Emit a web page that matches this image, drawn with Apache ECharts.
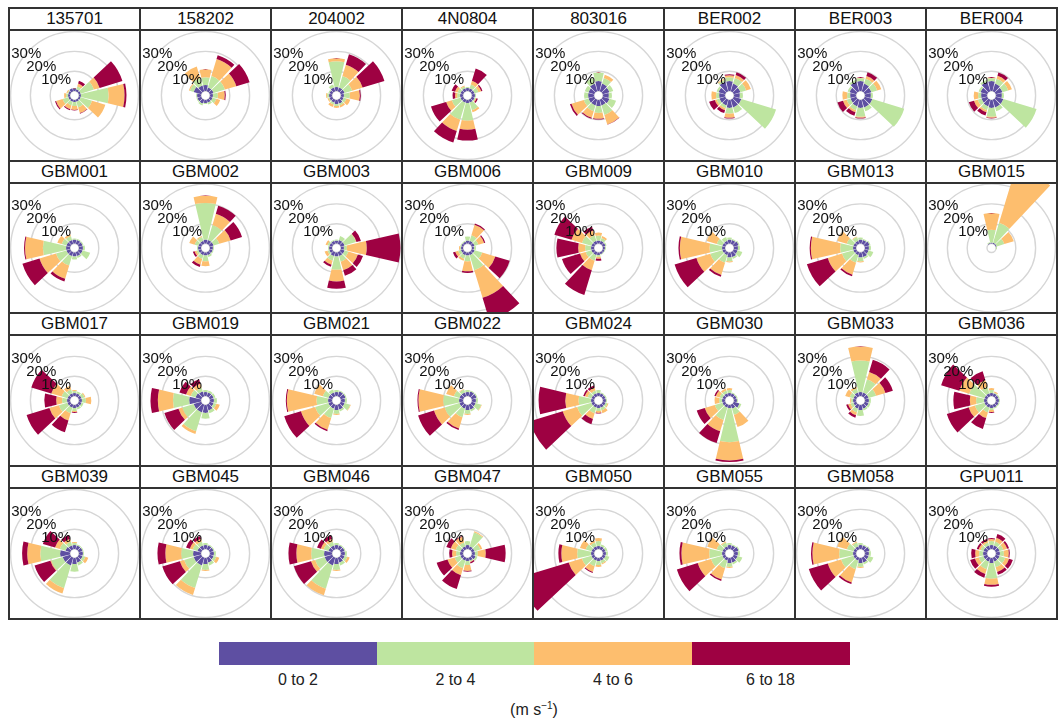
<!DOCTYPE html>
<html>
<head>
<meta charset="utf-8">
<script src="https://cdn.jsdelivr.net/npm/echarts@6/dist/echarts.min.js"></script>
<style>
  html, body { margin: 0; padding: 0; background: #ffffff; }
  #page { position: relative; width: 1059px; height: 724px; overflow: hidden;
          font-family: "Liberation Sans", Arial, sans-serif; color: #111; }
  .rule { position: absolute; background: #333; }
  .strip { position: absolute; text-align: center; font-size: 17px; line-height: 22px; color: #111; }
  .plot { position: absolute; overflow: hidden; }
  .key { position: absolute; height: 23px; }
  .keylab { position: absolute; width: 158px; text-align: center; font-size: 16px; color: #222; }
  #unit { position: absolute; left: 434px; width: 200px; top: 700px; text-align: center; font-size: 16px; color: #222; }
  #unit sup { font-size: 10px; }
</style>
</head>
<body>
<div id="page"></div>
<script>
// Wind direction sectors (degrees from north, clockwise) and speed classes (m/s)
const directions = ['0', '30', '60', '90', '120', '150', '180', '210', '240', '270', '300', '330'];
const speedBins = ['0 to 2', '2 to 4', '4 to 6', '6 to 18'];
const binColors = ['#5E4FA2', '#BEE5A0', '#FDBE6E', '#9E0142'];
const ringTicks = [10, 20, 30];

const stationNames = ['135701', '158202', '204002', '4N0804', '803016', 'BER002', 'BER003', 'BER004',
  'GBM001', 'GBM002', 'GBM003', 'GBM006', 'GBM009', 'GBM010', 'GBM013', 'GBM015',
  'GBM017', 'GBM019', 'GBM021', 'GBM022', 'GBM024', 'GBM030', 'GBM033', 'GBM036',
  'GBM039', 'GBM045', 'GBM046', 'GBM047', 'GBM050', 'GBM055', 'GBM058', 'GPU011'];

// Frequency (%) per direction sector: [0-2, 2-4, 4-6, 6-18 m/s]
const st135701 = [[1.5,0,0,0],[1,1.5,1.5,1.5],[1,7,3,12],[1,14,8,1],[1,6,7,0],[1,3,3,0.3],[1,2,2,0.3],[1,2,2,0.5],[1,3,3.5,0.5],[1,1,1,0],[1,0.5,0.5,0],[1.5,0,0,0]];
const st158202 = [[3,4,4,0],[2,6,9,2],[2,6,6,7],[1.5,2.5,3.5,0.5],[1.5,2,2,0],[1.5,1,0,0],[1.5,0.5,0,0],[2,1,0,0],[2,0.5,0,0],[2,0.5,0,0],[4,2,0.5,0],[3,4,6,0]];
const st204002 = [[2,13,1.5,0],[2,6,6,5.5],[2,4,5.5,11.5],[1.5,3,5,0.5],[1.5,1.5,2,0],[2,1,1,0],[2,1,1,0],[1.5,1,1.3,0],[1.5,0.5,0.5,0],[1.5,1,0.5,0],[1.5,0.5,0,0],[2,1.5,0,0]];
const st4N0804 = [[1.5,0.5,0,0],[1.5,2,2,6.5],[1.5,2,1.5,0.6],[1.5,0.5,0,0],[1.5,0.5,0.5,0.7],[1.5,4,1,0],[1.5,9,4.5,5.5],[1.5,9,6,6],[1.5,4.5,3,8],[1.5,1.5,1,1.3],[1.5,1.5,1.3,1.8],[1.5,1,0.5,0]];
const st803016 = [[5,4.4,0,0],[4,3,1.7,0],[3.5,2,0,0],[3,1.5,0,0],[3.5,3.5,0,0],[3,5,5,0.2],[3,3.5,3,0.4],[3,3,3.5,0.5],[3,2.5,6.5,0.8],[3,2,0,0],[3,2,0,0],[4,3,0,0]];
const stBER002 = [[5,2,1,0.5],[4,3,1.5,1.5],[3.5,3,2.5,0],[3,1.5,0,0],[4,18.3,0,0],[4,3,0,0],[4,3,2,0.4],[3,1.5,1,1.5],[3,1.5,1,3],[3,1.5,2.4,0],[3.5,1,0,0],[5,1,0.5,0]];
const stBER003 = [[5,1.5,0.3,0],[4,2.5,1.5,2],[3.5,3,2.2,0],[3,1,0,0],[4,16.8,0,0],[4,2,0,0],[4,4.5,0.5,0.4],[3.5,2,1,1.9],[3,2,2,2.9],[3,1.5,2.4,0],[3.5,1,0,0],[5,1,0,0]];
const stBER004 = [[5,1.5,0.4,0],[4,2.5,1.6,1.8],[3.5,3,2,0],[3,1,0,0],[4,17.5,0,0],[4,2,0,0],[4,4.5,0.5,0.3],[3.5,2,1,1.8],[3,2,2,2.7],[3,1.5,2.2,0],[3.5,1,0,0],[5,1,0,0]];
const stGBM001 = [[2,0.5,0,0],[2,0.5,0,0],[2,0.5,0,0],[2,1,0,0],[2,4,0,0],[2,1,0,0],[2,1.5,0,0],[2,5,7,1.4],[2,5.5,8.7,9],[2,11.7,9,0.5],[2,2.5,2.3,0],[2,2,1,0]];
const stGBM002 = [[2,18.5,3.6,0],[2,7.8,6,4.2],[2,3,6,6],[1.5,0.5,0,0],[1.5,0.5,0,0],[1.5,1,0,0],[1.5,3,2.5,0],[1.5,2,3,1.3],[1.5,1,1,0.9],[1.5,0.5,0,0],[1.5,2,2.8,0],[1.5,2,0.5,0]];
const stGBM003 = [[1.5,0.5,0,0],[2,2,0,0],[2,6,0.3,2.3],[1.5,1.5,10,17],[2,2,5,2.7],[2,3,4.5,2.9],[2,6.7,5.9,3.7],[2,2.5,2,1.1],[1.5,1,1.5,0],[1.5,0.5,0,0],[1.5,1,1,0],[1.5,0.5,0,0]];
const stGBM006 = [[1.5,2,0,0],[1.5,3,5.5,0.6],[1.5,2,3,0.6],[1,1,0,0],[1.5,4,6.9,7.6],[1.5,8,14.5,12],[1.5,3,5,0.8],[1.5,2,1,0],[1.2,1.5,1.5,1.2],[1,0.5,0.5,0],[1,0.5,0,0],[1,0.5,0,0]];
const stGBM009 = [[1.5,2.5,1.5,0],[1.5,1.5,1,0],[1.5,0.5,0,0],[1,0.5,0,0],[1,0.3,0,0],[1,0.3,0,0],[1.2,1,1,1],[1.5,3,5,13],[1.5,3,3,9.5],[1.5,3,3.5,11],[1.5,5,5.5,9],[1.5,3,2.5,2]];
const stGBM010 = [[2,1,0,0],[2,0.5,0,0],[2.5,0.5,0,0],[2,1,0,0],[2,2.5,0,0],[2.5,1,0,0],[2.5,2,0.5,0],[1.5,4,6.5,0.9],[1.5,6.4,7.3,11.5],[1.5,6.3,15,0.7],[1.5,3,5.3,0],[1.5,2,0,0]];
const stGBM013 = [[2,1,0,0],[2,0.5,0,0],[2.5,0.5,0,0],[2,1,0,0],[2,2.5,0,0],[2.5,1,0,0],[2.5,2,0.5,0],[1.5,4,6.3,0.8],[1.5,6,7.5,11],[1.5,6.5,14.8,0.6],[1.5,3.5,5,0],[1.5,2,0.3,0]];
const stGBM015 = [[0.5,6.5,8.4,0],[0.5,10.5,30,0],[0.5,4,5,0],[0,0.5,0,0],[0,0,0,0],[0,0,0,0],[0,0,0,0],[0,0,0,0],[0,0,0,0],[0,0,0,0],[0,0,0,0],[0.3,0.5,0,0]];
const stGBM017 = [[1.5,1,0.5,0],[1.5,1,0,0],[1.5,1.5,0.5,0],[1.5,2,2.7,0],[1.5,1,0,0],[1.5,1,0,0],[1.5,1.5,0.5,0.5],[1.5,3,3.8,6.2],[1.5,4.5,5,12],[1.5,2.5,3,6],[1.5,3,5.5,10.5],[1.5,2,2,0]];
const stGBM019 = [[2,1,0,0],[2,1,0,0],[2,1,0,0],[2,1.5,0,0],[2,1.5,1.8,0],[3,1.5,0,0],[4,3,0,0],[4,10,1.4,0],[4,6,2,7.4],[6,8.2,7.6,3.7],[3,2.5,2.5,3.5],[2.5,2,2,2.5]];
const stGBM021 = [[2,1,0,0],[2.5,0.5,0,0],[2.5,0.5,0,0],[2,1,0,0],[2,3,0.3,0],[2.5,1,0,0],[2.5,2,0.5,0],[2,5,6.2,0.7],[2,7,7.5,8.8],[2,5.8,15,0.5],[2,3,4.5,0],[2,1.5,0,0]];
const stGBM022 = [[2,1,0,0],[2.5,0.5,0,0],[2.5,0.5,0,0],[2,1,0,0],[2,3,0.3,0],[2.5,1,0,0],[2.5,2,0.5,0],[2,4.5,6,0.8],[2,7.8,5.6,8.4],[2,8,12.5,0.5],[2,3,4,0],[2,1.5,0.3,0]];
const stGBM024 = [[1.5,1.5,0,0],[1.5,0.5,0,0],[1.5,0.5,0,0],[1.5,0.5,0,0],[1.5,1,0.5,0],[1.5,1.5,1.5,0],[1.5,1.5,1,0.3],[1.5,3,3,2.7],[1.5,7.5,7.6,17.4],[1.5,6.3,6.7,13.5],[1.5,2,1.5,0.8],[1.5,1.5,1.5,1.2]];
const stGBM030 = [[1.5,1.5,1,0],[1.5,0.5,0,0],[1.5,0.5,0,0],[1.5,0.5,0,0],[3,1,0,0],[2,3.3,6.4,0],[1.5,17.3,9.2,0.8],[1.5,6.5,6,6.2],[1.5,4,5.3,4.2],[1.5,1.5,2.3,0],[1.5,1.5,2,0.7],[1.5,1.5,1,0]];
const stGBM033 = [[2,15.9,7.1,0],[2,7,3.8,6.4],[2,4,4.9,3.9],[2,1,0,0],[2,1,0,0],[2,1,0,0],[2.5,3,0,0],[2,2,1.5,1.3],[1.5,1.5,1.3,1],[1.5,1,0.5,0],[1.5,2,2.3,0],[2,2,1,0]];
const stGBM036 = [[1.5,1.5,1,0],[1.5,0.5,0.5,0],[1.5,0.5,0,0],[1.5,0.5,0,0],[1.5,0.5,0,0],[1.5,0.5,0,0],[1.5,1,1,0.5],[1.5,2.5,3,5.8],[1.5,5,3.3,11.5],[1.5,4,3.2,8.3],[1.5,8,5.2,9.6],[1.5,3.5,3.4,4.8]];
const stGBM039 = [[2,1,0.5,0],[2,0.5,0,0],[2,0.5,0,0],[2,0.5,0,0],[2,1.5,1.5,0],[2.5,1.5,0,0],[3,4,0,0],[4,12,2.8,0],[4,6,0.5,8.3],[5,10,6.6,2.6],[2.5,3,2.5,6.4],[2,2,1.5,2]];
const stGBM045 = [[2,1,0,0],[2,0.5,0,0],[2,0.5,0,0],[2,1,0,0],[2,1.5,1.5,0],[2.5,1.5,0,0],[3,3,0.5,0],[4,11.9,3.7,0],[4,5,2.3,9.2],[4,6,8,4],[2,2.5,1.5,2],[2,2,1.5,1.5]];
const stGBM046 = [[2,1,0,0],[2,0.5,0,0],[2,0.5,0,0],[2,1,0,0],[2,1.5,1.2,0],[2.5,1.5,0,0],[3,3,0.5,0],[4,12.3,3.5,0],[4,5,2.2,9],[4,6.5,7.5,4],[2,2.5,1.5,2],[2,2,1.5,1.8]];
const stGBM047 = [[2,2,0,0],[1.5,7.5,0.4,0],[1.5,3,1,0],[1.5,1.5,4,10],[2,1,0,0],[1.5,0.5,0.3,0.7],[1.5,2,3,0.5],[1.5,4,3.7,7.3],[1.5,3,3.8,5.7],[1.5,2,2,1.5],[1.5,2.5,2.5,2.4],[1.5,2,3,0.5]];
const stGBM050 = [[1.5,2.5,1.5,0],[1.5,1,0,0],[1.5,1,0,0],[1.5,1,0,0],[1.5,2,0,0],[1.5,1.5,0.5,0],[1.5,2,1,0],[1.5,3,3,0.5],[1.5,5,7,26.5],[1.5,7,8,1.5],[1.5,3,3,0],[1.5,2,1,0]];
const stGBM055 = [[2,1,0,0],[2,0.5,0,0],[2.5,0.5,0,0],[2,1,0,0],[2,2.5,0,0],[2.5,1,0,0],[2.5,2,0.5,0],[1.5,4,6,0.8],[1.5,6,7,11],[1.5,6.5,14,1],[1.5,3,5,0],[1.5,2,0.5,0]];
const stGBM058 = [[2,1,0,0],[2,0.5,0,0],[2.5,0.5,0,0],[2,1,0,0],[2,2.5,0,0],[2.5,1,0,0],[2.5,2,0.5,0],[1.5,4.5,7,0.8],[1.5,6.5,7,10],[1.5,7,13.5,0.7],[1.5,3.5,5,0],[1.5,2,0.5,0]];
const stGPU011 = [[2,2,1,0.5],[2,2,2,2],[2,2,2,1],[2,2,2.5,0.5],[2,3,2,2],[2,3,2.5,1.5],[2.5,8,3,1],[2,4,2.5,2],[2,2.5,2,2.5],[2,2,2,2],[2,1.5,1,1],[2,1.5,1,1]];

const stationData = [st135701, st158202, st204002, st4N0804, st803016, stBER002, stBER003, stBER004,
  stGBM001, stGBM002, stGBM003, stGBM006, stGBM009, stGBM010, stGBM013, stGBM015,
  stGBM017, stGBM019, stGBM021, stGBM022, stGBM024, stGBM030, stGBM033, stGBM036,
  stGBM039, stGBM045, stGBM046, stGBM047, stGBM050, stGBM055, stGBM058, stGPU011];

// ---- layout of the 8 x 4 panel grid ----
const NCOL = 8;
const colEdge = i => 9 + 131 * i;
const rowEdges = [8, 161, 313, 466, 619];
const STRIP = 22;
const HOLE = 4.5;          // px radius of the empty centre
const PX_PER_PCT = 1.98;   // px per 1 % frequency
const RMAX = 50;           // radius axis extent (%)
const gridGrey = '#d6d6d6';
const clear = 'rgba(0,0,0,0)';

const page = document.getElementById('page');
function addDiv(cls, css, html) {
  const d = document.createElement('div');
  d.className = cls;
  Object.assign(d.style, css);
  if (html !== undefined) d.innerHTML = html;
  page.appendChild(d);
  return d;
}

function roseOption(rows, cx, cy) {
  const outer = HOLE + PX_PER_PCT * RMAX;
  const series = speedBins.map((name, k) => ({
    name: name,
    type: 'bar',
    coordinateSystem: 'polar',
    polarIndex: 0,
    stack: 'speed',
    barCategoryGap: '12%',
    silent: true,
    itemStyle: { color: binColors[k] },
    data: rows.map(r => r[k])
  }));
  return {
    animation: false,
    polar: [
      { center: [cx, cy], radius: [HOLE, outer] },
      { center: [cx, cy], radius: [HOLE, outer] }
    ],
    angleAxis: [
      { polarIndex: 0, type: 'category', data: directions, startAngle: 105, clockwise: true,
        axisLine: { show: false }, axisTick: { show: false }, axisLabel: { show: false }, splitLine: { show: false } },
      { polarIndex: 1, type: 'value', min: 0, max: 360, startAngle: 139,
        axisLine: { show: false }, axisTick: { show: false }, axisLabel: { show: false }, splitLine: { show: false } }
    ],
    radiusAxis: [
      { polarIndex: 0, type: 'value', min: 0, max: RMAX, interval: 10,
        axisLine: { show: false }, axisTick: { show: false }, axisLabel: { show: false },
        splitLine: { show: true, lineStyle: { width: 1.4, color: [gridGrey, gridGrey, gridGrey, gridGrey, clear, clear] } } },
      { polarIndex: 1, type: 'value', min: 0, max: RMAX, interval: 10, z: 10,
        axisLine: { show: false }, axisTick: { show: false }, splitLine: { show: false },
        axisLabel: { show: true, margin: 0, align: 'center', verticalAlign: 'middle',
          fontSize: 15, color: '#111', fontFamily: 'Liberation Sans, Arial, sans-serif',
          formatter: v => ringTicks.indexOf(v) >= 0 ? v + '%' : '' } }
    ],
    series: series
  };
}

// one wind rose per station, each in its own clipped panel
stationNames.forEach((name, idx) => {
  const c = idx % NCOL, r = Math.floor(idx / NCOL);
  const x0 = colEdge(c), x1 = colEdge(c + 1);
  const y0 = rowEdges[r], y1 = rowEdges[r + 1];
  addDiv('strip', { left: (x0 + 1) + 'px', top: y0 + 'px', width: (x1 - x0 - 2) + 'px', height: STRIP + 'px' }, name);
  const plotLeft = x0 + 1, plotTop = y0 + STRIP + 1;
  const w = x1 - x0 - 2, h = y1 - y0 - STRIP - 2;
  const div = addDiv('plot', { left: plotLeft + 'px', top: plotTop + 'px', width: w + 'px', height: h + 'px' });
  const cxAbs = (x0 + x1) / 2, cyAbs = (y0 + STRIP + y1) / 2;
  const chart = echarts.init(div, null, { renderer: 'canvas', devicePixelRatio: 1 });
  chart.setOption(roseOption(stationData[idx], cxAbs - plotLeft, cyAbs - plotTop));
});

// frame lines
for (let i = 0; i <= NCOL; i++) {
  addDiv('rule', { left: (colEdge(i) - 1) + 'px', top: (rowEdges[0] - 1) + 'px', width: '2px', height: (rowEdges[4] - rowEdges[0] + 2) + 'px' });
}
rowEdges.forEach(y => addDiv('rule', { left: (colEdge(0) - 1) + 'px', top: (y - 1) + 'px', width: (colEdge(NCOL) - colEdge(0) + 2) + 'px', height: '2px' }));
rowEdges.slice(0, 4).forEach(y => addDiv('rule', { left: (colEdge(0) - 1) + 'px', top: (y + STRIP - 1) + 'px', width: (colEdge(NCOL) - colEdge(0) + 2) + 'px', height: '2px' }));

// colour key
const keyLeft = 219, keyW = 157.5;
speedBins.forEach((lab, k) => {
  addDiv('key', { left: (keyLeft + k * keyW) + 'px', top: '642px', width: (keyW + 0.5) + 'px', background: binColors[k] });
  addDiv('keylab', { left: (keyLeft + k * keyW) + 'px', top: '671px' }, lab);
});
const unit = document.createElement('div');
unit.id = 'unit';
unit.innerHTML = '(m s<sup>\u22121</sup>)';
page.appendChild(unit);
</script>
</body>
</html>
